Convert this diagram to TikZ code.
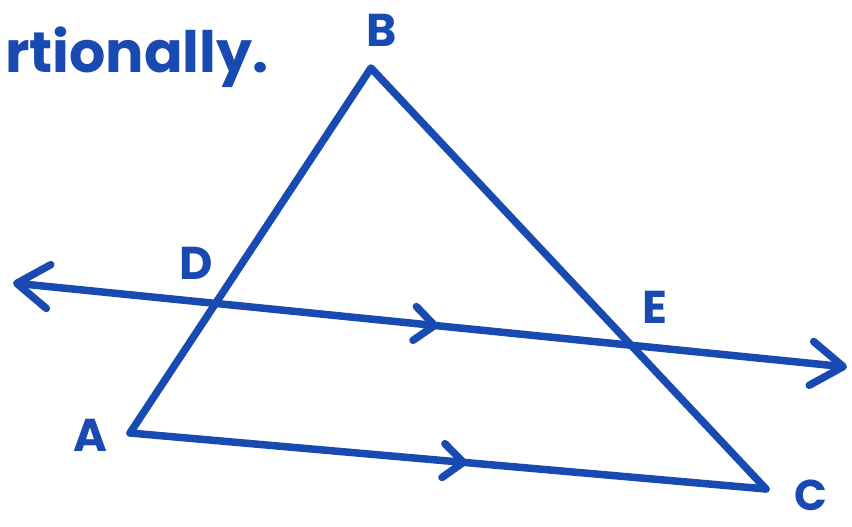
\documentclass[tikz,border=0pt]{standalone}
\usepackage{fontspec}
\setmainfont{Poppins}
\usetikzlibrary{arrows.meta, decorations.markings}
\definecolor{penblue}{RGB}{24,74,178}
\tikzset{
    pen/.style={draw=penblue, line width=7.5pt, line cap=round, line join=round},
    twobarb/.style={{Straight Barb[length=32pt, width=44pt, round]}-{Straight Barb[length=32pt, width=44pt, round]}},
    midbarb/.style={postaction={decorate}, decoration={markings, mark=at position #1 with {\arrow[penblue, line width=7.5pt]{Straight Barb[length=20pt, width=34pt, round]}}}},
    ptlabel/.style={text=penblue, font=\fontsize{46}{46}\selectfont\bfseries, inner sep=0pt},
    headline/.style={text=penblue, font=\fontsize{57}{57}\selectfont\bfseries, inner sep=0pt}
}
\begin{document}
\begin{tikzpicture}[x=1pt, y=-1pt]
    \useasboundingbox (0,0) rectangle (852,527);
    % vertices and the ends of the parallel line
    \coordinate (A) at (130,433);
    \coordinate (B) at (371,68);
    \coordinate (C) at (766,489);
    \coordinate (lend) at (13,283);
    \coordinate (rend) at (847,367);
    % triangle
    \draw[pen] (A) -- (B) -- (C);
    \draw[pen, midbarb=0.53] (A) -- (C);
    % line DE
    \draw[pen, twobarb, midbarb=0.51] (lend) -- (rend);
    % labels
    \node[headline, anchor=base west] (txt) at (5,73) {rtionally.};
    \node[ptlabel] (lB) at (382,30) {B};
    \node[ptlabel] (lD) at (196,263) {D};
    \node[ptlabel] (lE) at (655,307) {E};
    \node[ptlabel] (lA) at (90,435) {A};
    \node[ptlabel, font=\fontsize{43}{43}\selectfont\bfseries] (lC) at (811,495) {C};
\end{tikzpicture}
\end{document}
